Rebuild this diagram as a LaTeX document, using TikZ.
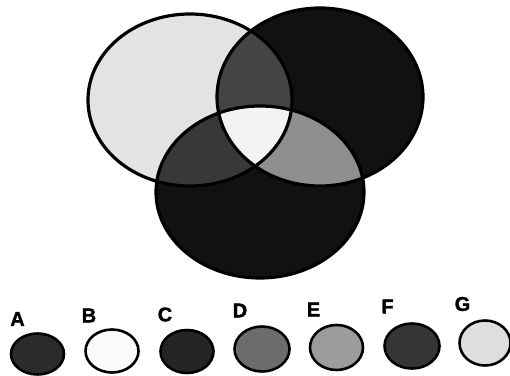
\documentclass[tikz,border=0pt]{standalone}
\usepackage{fontspec}
\setmainfont{Liberation Sans}[BoldFeatures={FakeBold=1.5}]
\usetikzlibrary{shapes.geometric}
\definecolor{vennlight}{HTML}{E3E3E3}
\definecolor{vennblack}{HTML}{111111}
\definecolor{vennlr}{HTML}{444444}
\definecolor{vennlb}{HTML}{383838}
\definecolor{vennrb}{HTML}{8E8E8E}
\definecolor{venncore}{HTML}{F3F3F3}
\definecolor{keyA}{HTML}{2B2B2B}
\definecolor{keyB}{HTML}{FAFAFA}
\definecolor{keyC}{HTML}{242424}
\definecolor{keyD}{HTML}{6C6C6C}
\definecolor{keyE}{HTML}{9C9C9C}
\definecolor{keyF}{HTML}{353535}
\definecolor{keyG}{HTML}{DEDEDE}
\tikzset{
  ring/.style={
    draw=black,
    line width=3.2pt
  },
  swatch/.style={
    ellipse,
    draw=black,
    line width=2.6pt,
    minimum width=53pt,
    minimum height=43pt,
    inner sep=0pt
  },
  letter/.style={
    font=\fontsize{20}{20}\selectfont\bfseries,
    inner sep=0pt
  }
}
\begin{document}
\begin{tikzpicture}[x=1pt,y=1pt]

\useasboundingbox (0,0) rectangle (510,375);

\coordinate (lc) at (190,275);
\coordinate (rc) at (320,278);
\coordinate (bc) at (260,183);

\fill[vennlight] (lc) ellipse [x radius=102pt, y radius=86pt];
\fill[vennblack] (rc) ellipse [x radius=103pt, y radius=89pt];
\fill[vennblack] (bc) ellipse [x radius=104pt, y radius=86pt];

\begin{scope}
  \clip (lc) ellipse [x radius=102pt, y radius=86pt];
  \fill[vennlr] (rc) ellipse [x radius=103pt, y radius=89pt];
  \fill[vennlb] (bc) ellipse [x radius=104pt, y radius=86pt];
\end{scope}
\begin{scope}
  \clip (rc) ellipse [x radius=103pt, y radius=89pt];
  \fill[vennrb] (bc) ellipse [x radius=104pt, y radius=86pt];
  \clip (lc) ellipse [x radius=102pt, y radius=86pt];
  \fill[venncore] (bc) ellipse [x radius=104pt, y radius=86pt];
\end{scope}

\draw[ring] (lc) ellipse [x radius=102pt, y radius=86pt];
\draw[ring] (rc) ellipse [x radius=103pt, y radius=89pt];
\draw[ring] (bc) ellipse [x radius=104pt, y radius=86pt];

\node[swatch, fill=keyA, minimum height=41pt] (swA) at (37.5,21) {};
\node[swatch, fill=keyB] (swB) at (112,24) {};
\node[swatch, fill=keyC] (swC) at (187,23.5) {};
\node[swatch, fill=keyD, minimum width=55pt, minimum height=45pt] (swD) at (262,26) {};
\node[swatch, fill=keyE, minimum height=45pt] (swE) at (336.5,27.5) {};
\node[swatch, fill=keyF, minimum width=55pt, minimum height=45pt] (swF) at (412,29) {};
\node[swatch, fill=keyG, minimum width=51pt, minimum height=45pt] (swG) at (485,32) {};

\node[letter] (labA) at (17.5,56) {A};
\node[letter] (labB) at (89,59.5) {B};
\node[letter] (labC) at (165,60.5) {C};
\node[letter] (labD) at (240,64.5) {D};
\node[letter] (labE) at (313.5,65.5) {E};
\node[letter] (labF) at (387.5,68.5) {F};
\node[letter] (labG) at (462.5,71) {G};

\end{tikzpicture}
\end{document}
